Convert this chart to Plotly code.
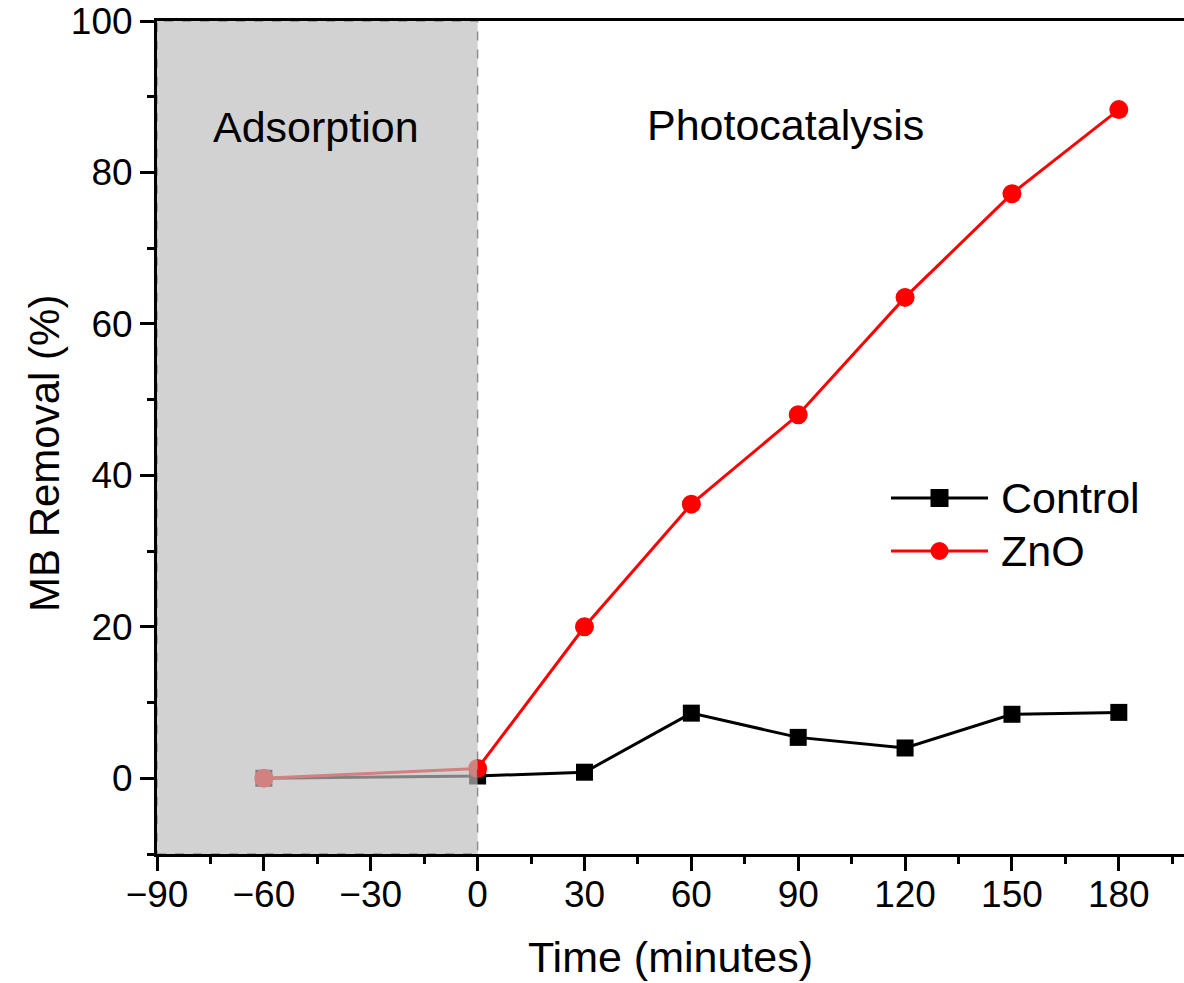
import plotly.graph_objects as go

# ---- data ----
time_min = [-60, 0, 30, 60, 90, 120, 150, 180]
control = [0.0, 0.3, 0.8, 8.6, 5.4, 4.0, 8.45, 8.7]
zno = [0.0, 1.3, 20.0, 36.2, 48.0, 63.5, 77.2, 88.3]
x_ticks = [-90, -60, -30, 0, 30, 60, 90, 120, 150, 180]
y_ticks = [0, 20, 40, 60, 80, 100]
region_labels = ["Adsorption", "Photocatalysis"]
series_names = ["Control", "ZnO"]

FONT = "Arial, Liberation Sans, sans-serif"
L, R, T, B = 157, 1184, 21, 854

fig = go.Figure()
fig.add_trace(go.Scatter(
    x=time_min, y=control, name=series_names[0], mode="lines+markers",
    line=dict(color="black", width=3),
    marker=dict(symbol="square", size=17, color="black"),
    showlegend=False,
))
fig.add_trace(go.Scatter(
    x=time_min, y=zno, name=series_names[1], mode="lines+markers",
    line=dict(color="#ff0000", width=3),
    marker=dict(symbol="circle", size=19, color="#ff0000"),
    showlegend=False,
))

# adsorption shaded region (drawn above data, semi-opaque)
fig.add_shape(type="rect", xref="x", yref="y", x0=-90, x1=0, y0=-10, y1=100,
              fillcolor="rgb(190,190,190)", opacity=0.68, layer="above",
              line=dict(color="rgb(90,90,90)", width=1.5, dash="dash"))

# region labels
fig.add_annotation(x=-45.5, y=86, xref="x", yref="y", text=region_labels[0],
                   showarrow=False, font=dict(family=FONT, size=43, color="black"))
fig.add_annotation(x=86.3, y=86.3, xref="x", yref="y", text=region_labels[1],
                   showarrow=False, font=dict(family=FONT, size=43, color="black"))

# manual legend (long line with marker in middle)
for (name, color, sym, ypix) in [(series_names[0], "black", "square", 498),
                                 (series_names[1], "#ff0000", "circle", 551)]:
    yp = (B - ypix) / (B - T)
    fig.add_shape(type="line", xref="paper", yref="paper",
                  x0=(891 - L) / (R - L), x1=(988 - L) / (R - L),
                  y0=yp, y1=yp, line=dict(color=color, width=3))
    xm = (939.5 - L) / (R - L)
    dx = 9 / (R - L)
    dy = 9 / (B - T)
    fig.add_shape(type="rect" if sym == "square" else "circle", xref="paper", yref="paper",
                  x0=xm - dx, x1=xm + dx, y0=yp - dy, y1=yp + dy,
                  fillcolor=color, line=dict(color=color, width=0))
    fig.add_annotation(x=(999 - L) / (R - L), y=yp, xref="paper", yref="paper",
                       text=name, showarrow=False, xanchor="left", yanchor="middle",
                       font=dict(family=FONT, size=43, color="black"))

# y-axis title (placed as in the reference)
fig.add_annotation(x=(44 - L) / (R - L), y=(B - 454) / (B - T), xref="paper", yref="paper",
                   text="MB Removal (%)", textangle=-90, showarrow=False,
                   xanchor="center", yanchor="middle",
                   font=dict(family=FONT, size=42, color="black"))

axis_common = dict(
    showline=True, linecolor="black", linewidth=3,
    ticks="outside", ticklen=14, tickwidth=3, tickcolor="black",
    showgrid=False, zeroline=False,
    tickfont=dict(family=FONT, size=37, color="black"),
)

fig.update_xaxes(
    range=[-90, 198.3], tickvals=x_ticks, mirror=True, ticklabelstandoff=-8,
    minor=dict(ticks="outside", ticklen=7, tickwidth=3, tickcolor="black", dtick=15, tick0=-90),
    title=dict(text="Time (minutes)", font=dict(family=FONT, size=43, color="black"), standoff=28),
    **axis_common,
)
fig.update_yaxes(
    range=[-10, 100], tickvals=y_ticks, mirror=False,
    minor=dict(ticks="outside", ticklen=7, tickwidth=3, tickcolor="black", dtick=10, tick0=0),
    **axis_common,
)

fig.update_layout(
    width=1184, height=983,
    margin=dict(l=L, r=0, t=T, b=983 - B),
    paper_bgcolor="white", plot_bgcolor="white",
    showlegend=False,
)

fig.write_html("out.html")
